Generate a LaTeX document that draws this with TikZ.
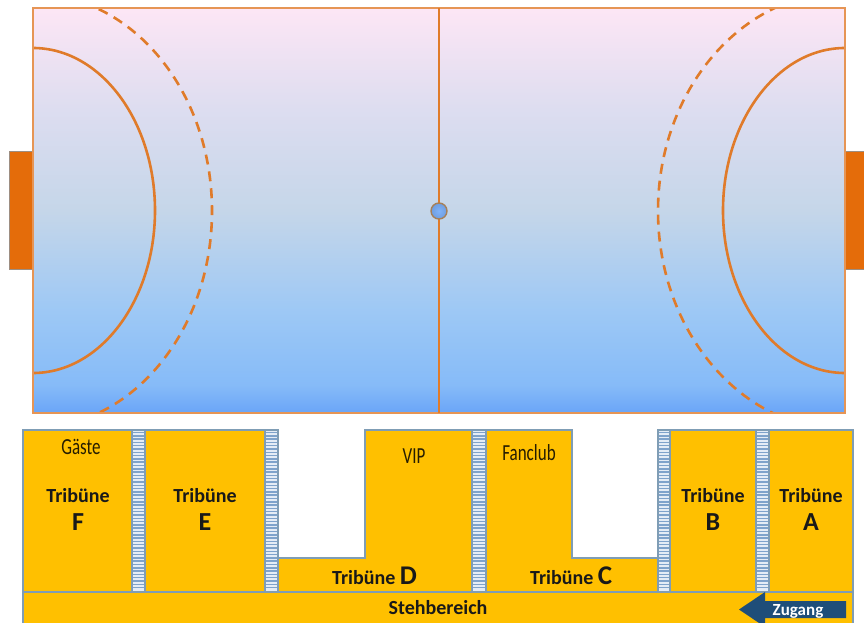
\documentclass[tikz,border=0pt]{standalone}
\usepackage{fontspec}
\setmainfont{Carlito}
\newfontfamily\narrowf[FakeStretch=0.74]{Carlito}
\definecolor{linec}{HTML}{E07B2A}
\definecolor{goalc}{HTML}{E46C0A}
\definecolor{standc}{HTML}{FFC000}
\definecolor{edgec}{HTML}{7F9DB5}
\definecolor{navy}{HTML}{1F4E79}
\definecolor{stairlight}{HTML}{E4ECF5}
\definecolor{stairdark}{HTML}{7FA3CB}
\definecolor{fa}{HTML}{6AA5F8}
\definecolor{fb}{HTML}{86BBF8}
\definecolor{fc}{HTML}{9DC8F5}
\definecolor{fd}{HTML}{C5D6E9}
\definecolor{fe}{HTML}{DDDDF0}
\definecolor{ff}{HTML}{FDE6F5}
\pgfdeclareverticalshading{fieldshade}{100bp}{
  color(0bp)=(fa);
  color(25bp)=(fa);
  color(28.5bp)=(fb);
  color(37.5bp)=(fc);
  color(50bp)=(fd);
  color(62.5bp)=(fe);
  color(75bp)=(ff);
  color(100bp)=(ff)}
\tikzset{
  x=1pt,y=-1pt,
  fieldline/.style={draw=linec,line width=2.6pt},
  dashline/.style={draw=linec,line width=2.6pt,dash pattern=on 10pt off 7pt},
  stand/.style={fill=standc,draw=edgec,line width=1.1pt},
  goal/.style={fill=goalc,draw=edgec!70!goalc,line width=0.6pt},
  stairbase/.style={fill=stairlight,draw=edgec,line width=1.1pt},
  stripe/.style={draw=stairdark,line width=1.5pt},
  big/.style={font=\bfseries\fontsize{20}{21}\selectfont,text=black!90,inner sep=0pt,anchor=base},
  huge/.style={font=\bfseries\fontsize{26}{27}\selectfont,text=black!90,inner sep=0pt,anchor=base},
  thin label/.style={font=\narrowf\fontsize{23}{24}\selectfont,text=black!85!standc,inner sep=0pt,anchor=base},
}
\begin{document}
\begin{tikzpicture}
\useasboundingbox (0,0) rectangle (864,623);
\clip (0,0) rectangle (864,623);
% goals
\path[goal] (9,151) rectangle (33,269);
\path[goal] (845,151) rectangle (870,269);
% field
\path[shading=fieldshade,shading angle=0] (33,8) rectangle (845,413);
\begin{scope}
\clip (33,8) rectangle (845,413);
\path[fieldline] (33,48) arc[start angle=90,end angle=-90,x radius=122pt,y radius=162.5pt];
\path[fieldline] (845,48) arc[start angle=90,end angle=270,x radius=122pt,y radius=162.5pt];
\path[dashline] (33,-6) arc[start angle=90,end angle=-90,x radius=179pt,y radius=217pt];
\path[dashline] (845,-8) arc[start angle=90,end angle=270,x radius=187pt,y radius=219pt];
\end{scope}
\draw[draw=linec!80!white,line width=1.2pt] (33,8) rectangle (845,413);
\path[fieldline] (439,8) -- (439,413);
% ball
\shade[inner color=fa!85!white,outer color=fa!80!gray] (439,211) circle[radius=8pt];
\draw[draw=brown!60!gray,line width=1.4pt] (439,211) circle[radius=8pt];
% stands
\path[stand] (23,592) rectangle (853,630);
\path[stand] (23,430) rectangle (132,592);
\path[stand] (145,430) rectangle (265,592);
\path[stand] (278,558) -- (365,558) -- (365,430) -- (472,430) -- (472,592) -- (278,592) -- cycle;
\path[stand] (486,430) -- (572,430) -- (572,558) -- (658,558) -- (658,592) -- (486,592) -- cycle;
\path[stand] (670,430) rectangle (756,592);
\path[stand] (769,430) rectangle (853,592);
% stairs
\foreach \xa/\xb in {132/145,265/278,472/486,658/670,756/769}{
  \path[stairbase] (\xa,430) rectangle (\xb,592);
  \foreach \yy in {432.5,435.8,...,590}{
    \path[stripe] (\xa,\yy) -- (\xb,\yy);
  }
  \draw[draw=edgec,line width=1.1pt] (\xa,430) rectangle (\xb,592);
}
% arrow
\fill[navy] (846,601) -- (765,601) -- (765,592) -- (739,609.5) -- (765,627) -- (765,618) -- (846,618) -- cycle;
% labels
\node[thin label] (gaeste) at (81,454) {Gäste};
\node[thin label] (vip) at (414,463) {VIP};
\node[thin label] (fanclub) at (529,460) {Fanclub};
\node[big] (tf) at (78,502) {Tribüne};
\node[huge] (lf) at (78,530) {F};
\node[big] (te) at (205,502) {Tribüne};
\node[huge] (le) at (205,530) {E};
\node[big] (tb) at (713,502) {Tribüne};
\node[huge] (lb) at (713,530) {B};
\node[big] (ta) at (811,502) {Tribüne};
\node[huge] (la) at (811,530) {A};
\node[big,anchor=base west] (td) at (332,584) {Tribüne \fontsize{27}{28}\selectfont D};
\node[big,anchor=base west] (tc) at (530,584) {Tribüne \fontsize{27}{28}\selectfont C};
\node[big] (steh) at (438,614) {Stehbereich};
\node[font=\bfseries\fontsize{17}{18}\selectfont,text=white,inner sep=0pt,anchor=base] (zug) at (798,615) {Zugang};
\end{tikzpicture}
\end{document}
